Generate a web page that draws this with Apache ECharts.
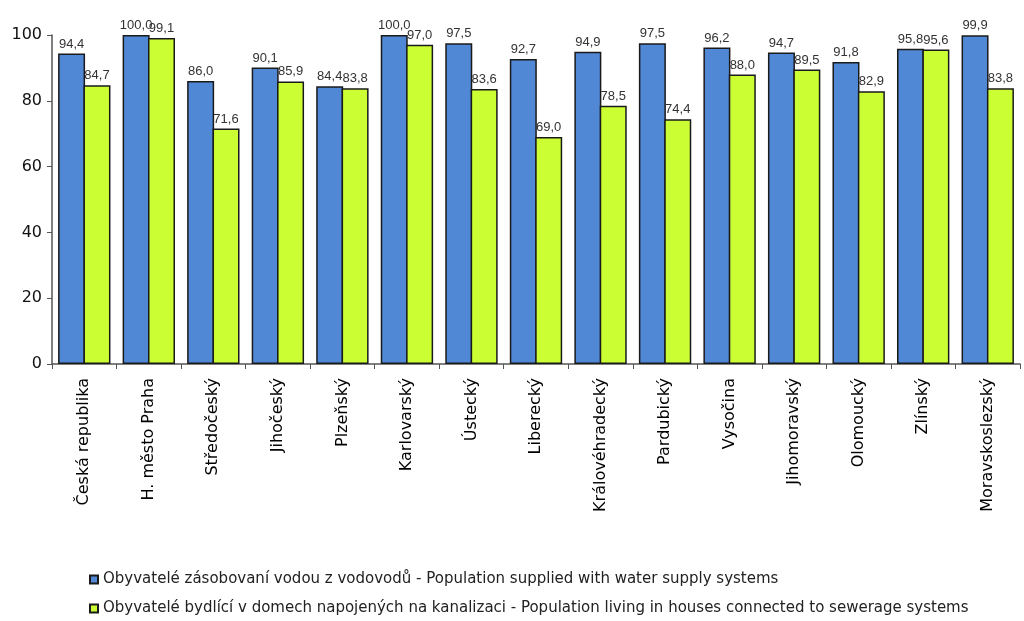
<!DOCTYPE html>
<html><head><meta charset="utf-8">
<script src="https://cdn.jsdelivr.net/npm/echarts@6/dist/echarts.min.js"></script>
<style>html,body{margin:0;padding:0;background:#fff}#c{width:1024px;height:621px}</style>
</head><body><div id="c"></div>
<script>
const categories = ["Česká republika","H. město Praha","Středočeský","Jihočeský","Plzeňský","Karlovarský","Ústecký","Liberecký","Královéhradecký","Pardubický","Vysočina","Jihomoravský","Olomoucký","Zlínský","Moravskoslezský"];
const waterSupply = [94.4,100.0,86.0,90.1,84.4,100.0,97.5,92.7,94.9,97.5,96.2,94.7,91.8,95.8,99.9];
const sewerage = [84.7,99.1,71.6,85.9,83.8,97.0,83.6,69.0,78.5,74.4,88.0,89.5,82.9,95.6,83.8];
const seriesNames = ["Obyvatelé zásobovaní vodou z vodovodů - Population supplied with water supply systems","Obyvatelé bydlící v domech napojených na kanalizaci - Population living in houses connected to sewerage systems"];
const yTicks = [0,20,40,60,80,100];

const chart = echarts.init(document.getElementById('c'));
const lbl = {show:true,position:'top',distance:3,color:'#333',fontSize:13,fontFamily:'Arial, Liberation Sans, sans-serif',formatter:p=>p.value.toFixed(1).replace('.',',')};
chart.setOption({
  animation:false,
  grid:{left:52,right:4,top:35,bottom:257,containLabel:false},
  legend:{orient:'vertical',left:84,top:567,itemGap:14,itemWidth:8,itemHeight:8,icon:'rect',
    textStyle:{fontSize:15,color:'#222',fontFamily:'DejaVu Sans, sans-serif'},data:seriesNames},
  xAxis:{type:'category',data:categories,
    axisLine:{lineStyle:{color:'#555',width:1.5}},
    axisTick:{show:true,interval:0,length:5,lineStyle:{color:'#555'}},
    axisLabel:{interval:0,rotate:90,color:'#000',fontSize:16,fontFamily:'DejaVu Sans, sans-serif',margin:14}},
  yAxis:{type:'value',min:0,max:100,interval:20,
    axisLine:{show:true,lineStyle:{color:'#555',width:1.5}},
    axisTick:{show:true,length:5,lineStyle:{color:'#555'}},
    splitLine:{show:false},
    axisLabel:{color:'#111',fontSize:16,fontFamily:'DejaVu Sans, sans-serif',margin:10,formatter:v=>yTicks.includes(v)?String(v):''}},
  series:[
    {name:seriesNames[0],type:'bar',data:waterSupply,barWidth:27,barGap:'-6%',
     itemStyle:{color:'#5088D5',borderColor:'#1a1a1a',borderWidth:1.5},label:lbl},
    {name:seriesNames[1],type:'bar',data:sewerage,barWidth:27,
     itemStyle:{color:'#CCFF33',borderColor:'#1a1a1a',borderWidth:1.5},label:lbl}
  ]
});
</script></body></html>
